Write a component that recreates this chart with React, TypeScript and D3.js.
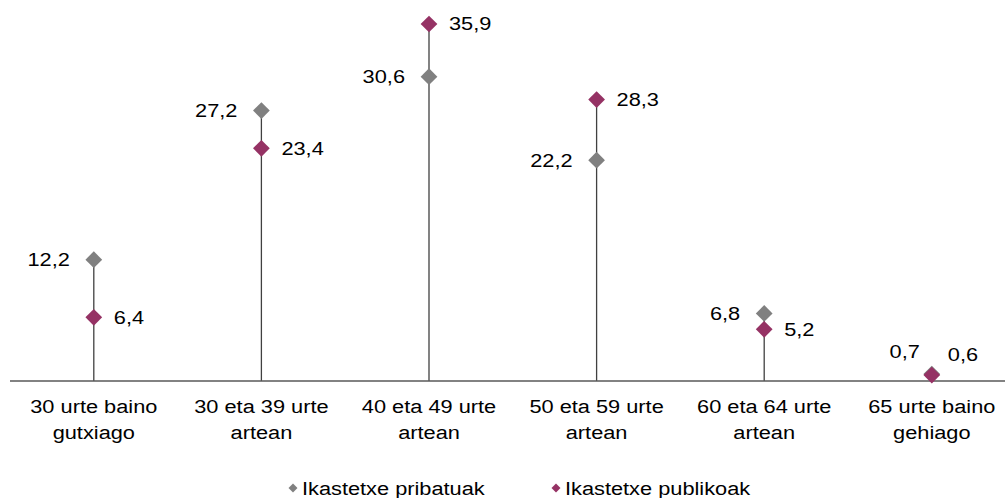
import React from "react";
import * as d3 from "d3";

const categories: string[][] = [
  ["30 urte baino", "gutxiago"],
  ["30 eta 39 urte", "artean"],
  ["40 eta 49 urte", "artean"],
  ["50 eta 59 urte", "artean"],
  ["60 eta 64 urte", "artean"],
  ["65 urte baino", "gehiago"],
];
const pribatuak: number[] = [12.2, 27.2, 30.6, 22.2, 6.8, 0.7];
const publikoak: number[] = [6.4, 23.4, 35.9, 28.3, 5.2, 0.6];
const seriesNames = ["Ikastetxe pribatuak", "Ikastetxe publikoak"];

const W = 1005;
const H = 498;
const GRAY = "#808080";
const PURPLE = "#953264";
const FONT = "'Liberation Sans', Arial, sans-serif";
const SX = 1.21;
const fmt = (v: number) => v.toFixed(1).replace(".", ",");

const textStyle = { fontFamily: FONT, fontSize: 18, fill: "#000" } as const;

function T({ x, y, anchor, children }: { x: number; y: number; anchor: "start" | "middle" | "end"; children: React.ReactNode }) {
  return (
    <g transform={`translate(${x},${y}) scale(${SX},1)`}>
      <text x={0} y={0} textAnchor={anchor} style={textStyle}>
        {children}
      </text>
    </g>
  );
}

export default function App() {
  const keys = categories.map((c) => c.join(" "));
  const x = d3.scaleBand<string>().domain(keys).range([10, 1015.6]);
  const y = d3.scaleLinear().domain([0, 35.9]).range([381, 24]);
  const diamond = d3.symbol().type(d3.symbolSquare).size(140)();
  const smallDiamond = d3.symbol().type(d3.symbolSquare).size(40)();
  const cxOf = (i: number) => x(keys[i])! + x.bandwidth() / 2;
  const cap = 6.4;

  return (
    <>
      <style>{"body{margin:0}"}</style>
      <svg width={W} height={H} style={{ display: "block" }}>
        <rect width={W} height={H} fill="#fff" />
        {keys.map((k, i) => (
          <line
            key={"dl" + i}
            x1={cxOf(i)}
            x2={cxOf(i)}
            y1={y(0)}
            y2={y(Math.max(pribatuak[i], publikoak[i]))}
            stroke="#404040"
            strokeWidth={1.3}
          />
        ))}
        <line x1={10} x2={W} y1={y(0)} y2={y(0)} stroke="#595959" strokeWidth={1.3} />
        {categories.map((c, i) => (
          <g key={"cl" + i}>
            {c.map((line, j) => (
              <T key={j} x={cxOf(i)} y={413 + j * 26} anchor="middle">
                {line}
              </T>
            ))}
          </g>
        ))}
        {pribatuak.map((v, i) => (
          <path key={"pp" + i} d={diamond} transform={`translate(${cxOf(i)},${y(v)}) rotate(45)`} fill={GRAY} />
        ))}
        {publikoak.map((v, i) => (
          <path key={"pu" + i} d={diamond} transform={`translate(${cxOf(i)},${y(v)}) rotate(45)`} fill={PURPLE} />
        ))}
        {pribatuak.map((v, i) => {
          const small = v < 2;
          return (
            <T key={"lp" + i} x={cxOf(i) - (small ? 12 : 24)} y={y(v) + cap - (small ? 22 : 0)} anchor="end">
              {fmt(v)}
            </T>
          );
        })}
        {publikoak.map((v, i) => {
          const small = v < 2;
          return (
            <T key={"lu" + i} x={cxOf(i) + (small ? 16 : 20)} y={y(v) + cap - (small ? 20 : 0)} anchor="start">
              {fmt(v)}
            </T>
          );
        })}
        {seriesNames.map((name, i) => {
          const lx = i === 0 ? 293 : 556;
          return (
            <g key={"lg" + i}>
              <path d={smallDiamond} transform={`translate(${lx},488) rotate(45)`} fill={i === 0 ? GRAY : PURPLE} />
              <T x={lx + 9} y={494.5} anchor="start">
                {name}
              </T>
            </g>
          );
        })}
      </svg>
    </>
  );
}
